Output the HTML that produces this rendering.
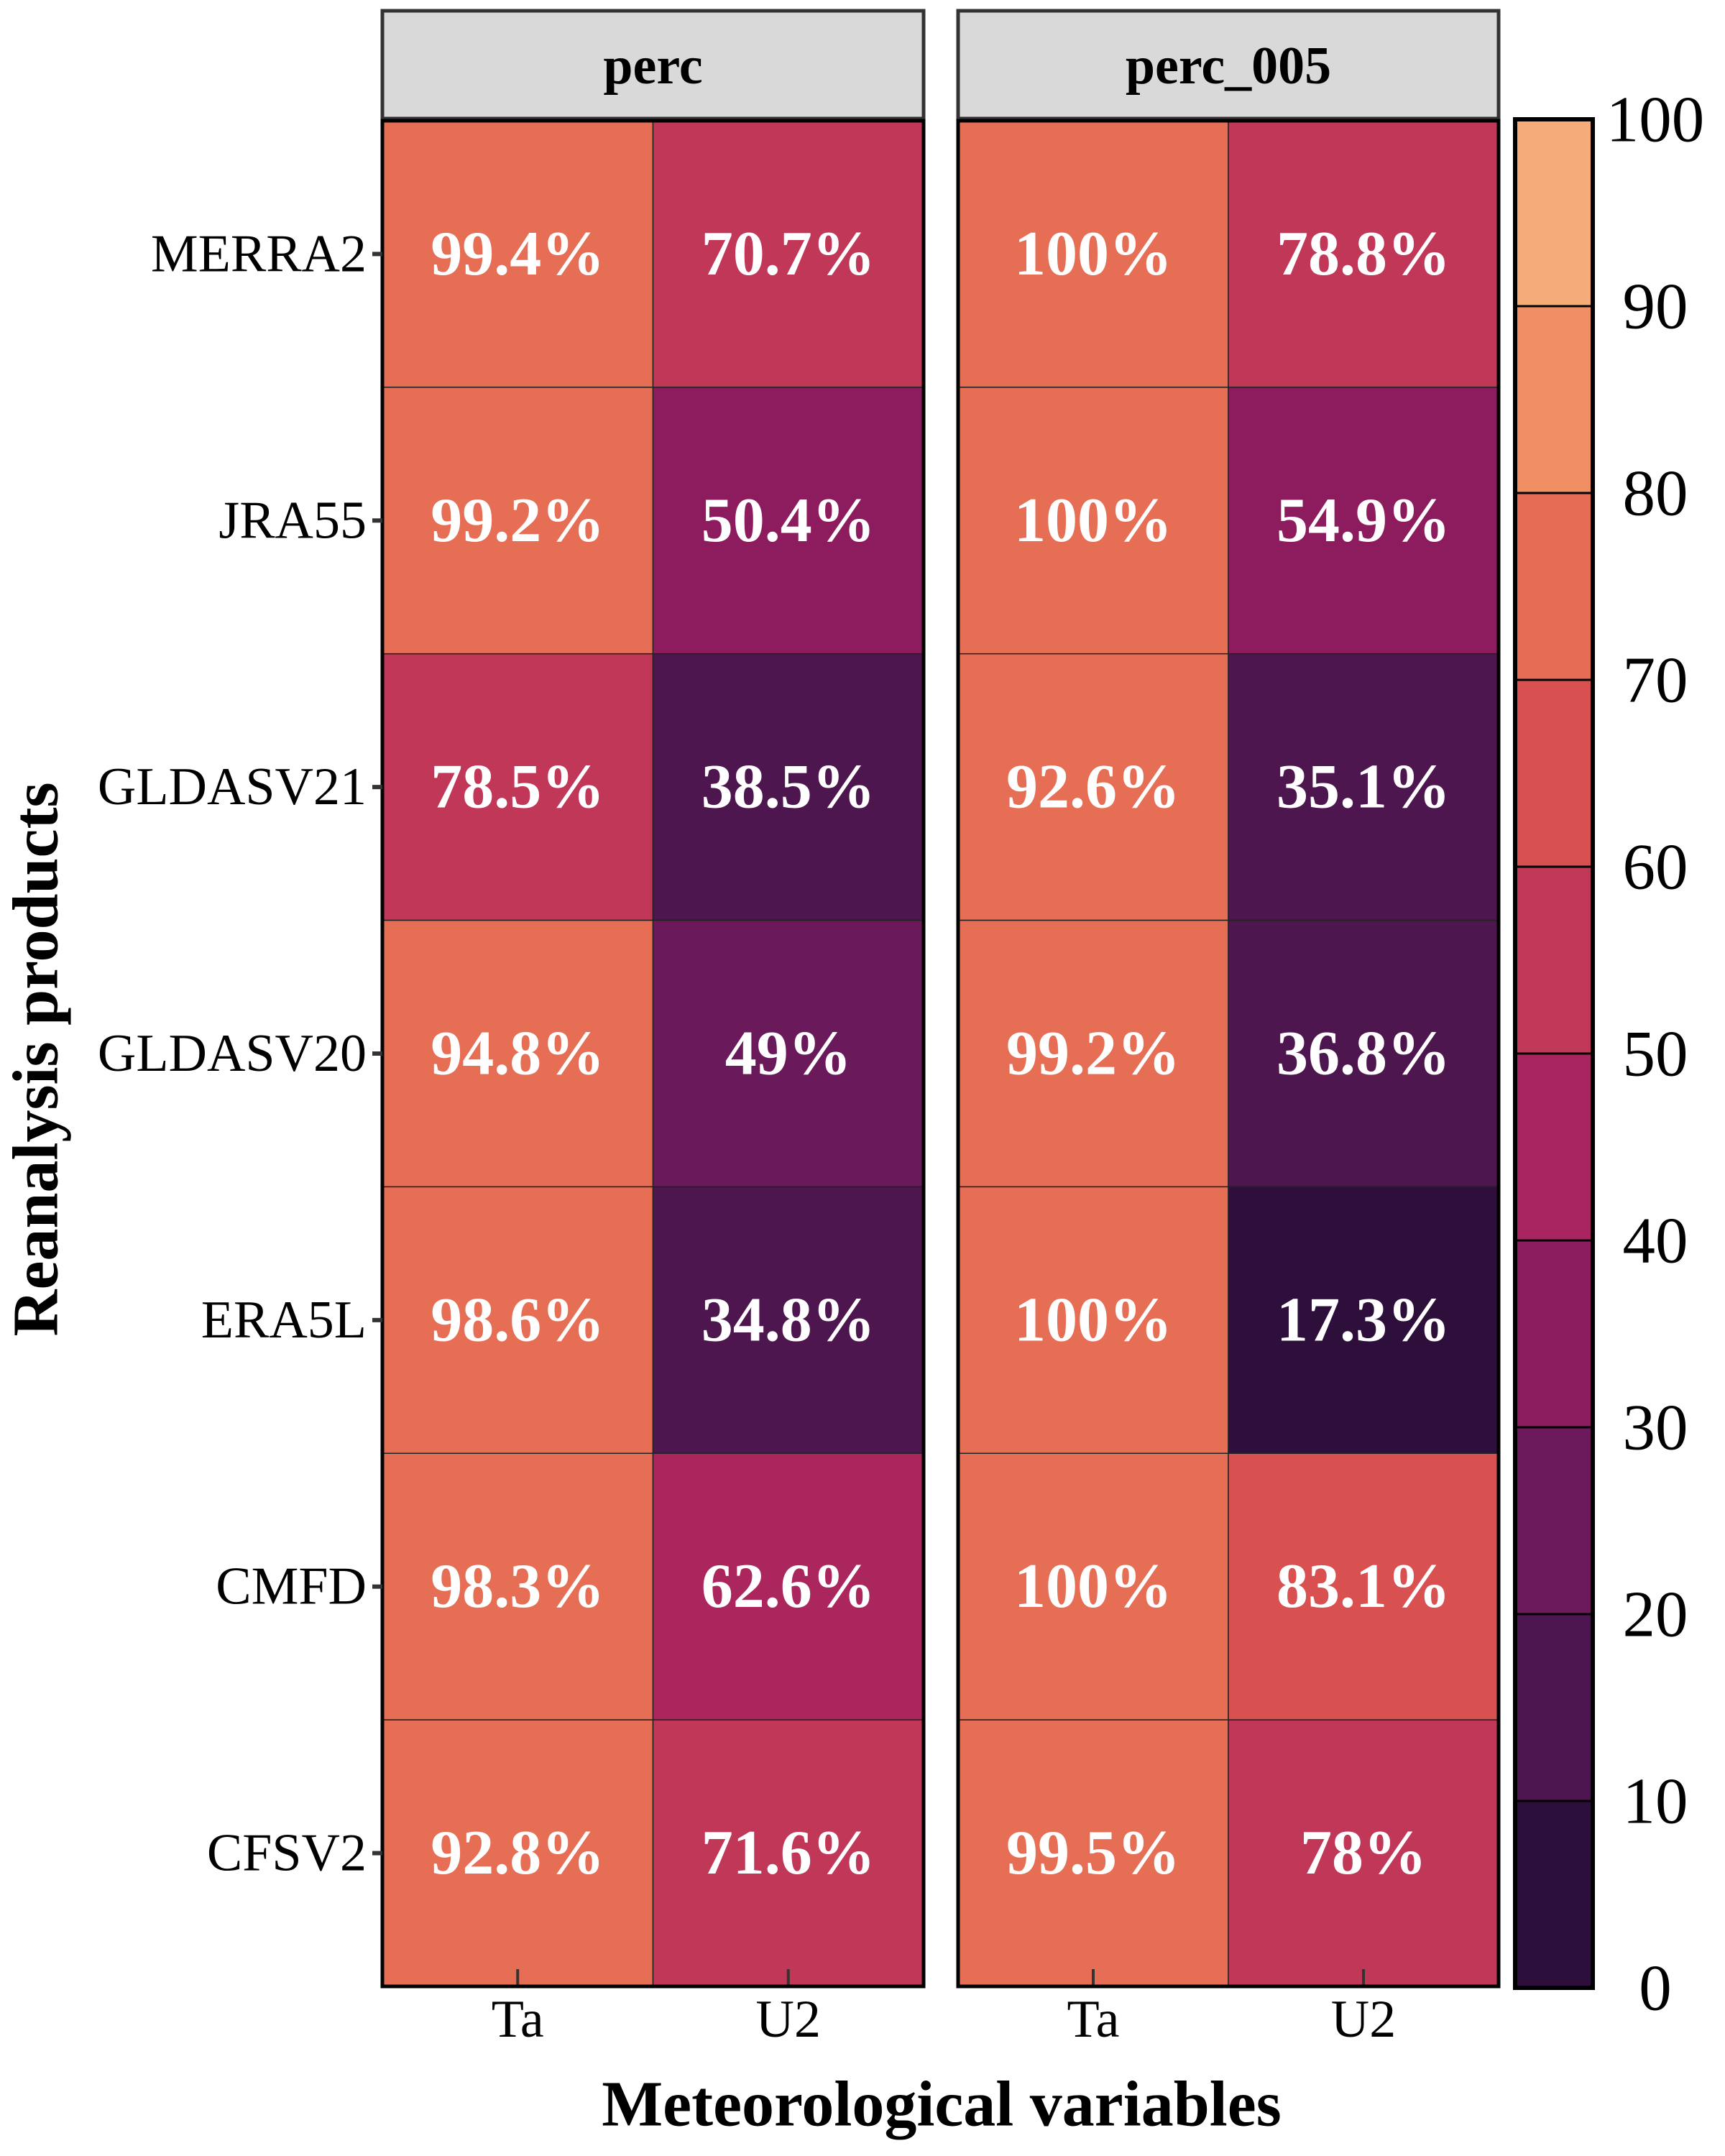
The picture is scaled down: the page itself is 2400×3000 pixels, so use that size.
<!DOCTYPE html>
<html><head><meta charset="utf-8"><style>
html,body{margin:0;padding:0;background:#fff;}
svg{display:block;font-family:"Liberation Serif","Times New Roman",serif;}
</style></head><body>
<svg id="chart" width="2400" height="3000" viewBox="0 0 2400 3000" xmlns="http://www.w3.org/2000/svg">
<g id="cells"></g>
<g id="frame"></g>
</svg>
<script>
const rows = ["MERRA2","JRA55","GLDASV21","GLDASV20","ERA5L","CMFD","CFSV2"];
const cols = ["Ta","U2"];
const panels = ["perc","perc_005"];
const percTa = [99.4,99.2,78.5,94.8,98.6,98.3,92.8];
const percU2 = [70.7,50.4,38.5,49,34.8,62.6,71.6];
const perc005Ta = [100,100,92.6,99.2,100,100,99.5];
const perc005U2 = [78.8,54.9,35.1,36.8,17.3,83.1,78];
const barTicks = [0,10,20,30,40,50,60,70,80,90,100];
const barColors = ["#2c0f3a","#4d1650","#6c1a5b","#8c1d5f","#a8255f","#c23858","#d85050","#e76c55","#f08e64","#f5ac78"];
const cellColors = ["#2c0f3a","#2e0f3b","#4d1650","#4e164f","#6a1a5a","#8c1c5e","#aa265d","#c03758","#d85050","#e66e55","#e66e55"];

const NS="http://www.w3.org/2000/svg";
const svg=document.getElementById('chart');
const gC=document.getElementById('cells');
const gF=document.getElementById('frame');
function mk(tag,attrs,parent,text){const e=document.createElementNS(NS,tag);for(const k in attrs)e.setAttribute(k,attrs[k]);if(text!==undefined)e.textContent=text;parent.appendChild(e);return e;}

const top0=168, bot0=2764, rowH=(bot0-top0)/rows.length;
const panelX=[[532,1285],[1333,2085]];
function yRow(i){return top0+i*rowH;}
function xCol(p,j){const [a,b]=panelX[p];return a+j*(b-a)/cols.length;}
function colW(p){const [a,b]=panelX[p];return (b-a)/cols.length;}
function colorFor(v){return cellColors[Math.min(10,Math.floor(v/10))];}
const data=[[percTa,percU2],[perc005Ta,perc005U2]];

for(let p=0;p<2;p++){
  const [a,b]=panelX[p];
  for(let j=0;j<cols.length;j++){
    for(let i=0;i<rows.length;i++){
      const v=data[p][j][i];
      const r=mk('rect',{x:xCol(p,j),y:yRow(i),width:colW(p),height:rowH,fill:colorFor(v),stroke:'#222','stroke-width':1.5},gC);
      
      
      const t=mk('text',{x:xCol(p,j)+colW(p)/2,y:yRow(i)+rowH/2,'text-anchor':'middle','dominant-baseline':'central','font-size':88,'font-weight':'bold',fill:'#fff'},gC,v+'%');
      
      
    }
    const cx=xCol(p,j)+colW(p)/2;
    mk('line',{x1:cx,y1:bot0,x2:cx,y2:bot0-24,stroke:'#333','stroke-width':4},gF);
    const tl=mk('text',{x:cx,y:2810,'text-anchor':'middle','dominant-baseline':'central','font-size':74,fill:'#000'},gF,cols[j]);
    
    
  }
  const strip=mk('rect',{x:a,y:15,width:b-a,height:150,fill:'#d9d9d9',stroke:'#333','stroke-width':5},gF);
  
  
  const st=mk('text',{x:(a+b)/2,y:92,'text-anchor':'middle','dominant-baseline':'central','font-size':74,'font-weight':'bold',fill:'#000'},gF,panels[p]);
  
  
  const fr=mk('rect',{x:a,y:top0,width:b-a,height:bot0-top0,fill:'none',stroke:'#000','stroke-width':5},gF);
  
  
}
for(let i=0;i<rows.length;i++){
  const cy=yRow(i)+rowH/2;
  mk('line',{x1:518,y1:cy,x2:532,y2:cy,stroke:'#333','stroke-width':6},gF);
  const t=mk('text',{x:510,y:cy,'text-anchor':'end','dominant-baseline':'central','font-size':74,fill:'#000'},gF,rows[i]);
  
  
}
// colorbar
const cbX=2108, cbW=108, cbTop=166, cbBot=2766;
function yBar(v){return cbBot-(v-barTicks[0])/(barTicks[barTicks.length-1]-barTicks[0])*(cbBot-cbTop);}
for(let k=0;k<barColors.length;k++){
  const r=mk('rect',{x:cbX,y:yBar(barTicks[k+1]),width:cbW,height:yBar(barTicks[k])-yBar(barTicks[k+1]),fill:barColors[k],stroke:'#000','stroke-width':3},gF);
  
  
}
const cbf=mk('rect',{x:cbX,y:cbTop,width:cbW,height:cbBot-cbTop,fill:'none',stroke:'#000','stroke-width':6},gF);


for(const v of barTicks){
  const t=mk('text',{x:2303,y:yBar(v),'text-anchor':'middle','dominant-baseline':'central','font-size':91,fill:'#000'},gF,String(v));
  
  
}
const xt=mk('text',{x:1310,y:2928,'text-anchor':'middle','dominant-baseline':'central','font-size':90,'font-weight':'bold',fill:'#000'},gF,'Meteorological variables');


const yt=mk('text',{x:0,y:0,transform:'translate(50,1474) rotate(-90)','text-anchor':'middle','dominant-baseline':'central','font-size':90,'font-weight':'bold',fill:'#000'},gF,'Reanalysis products');


</script>
</body></html>
